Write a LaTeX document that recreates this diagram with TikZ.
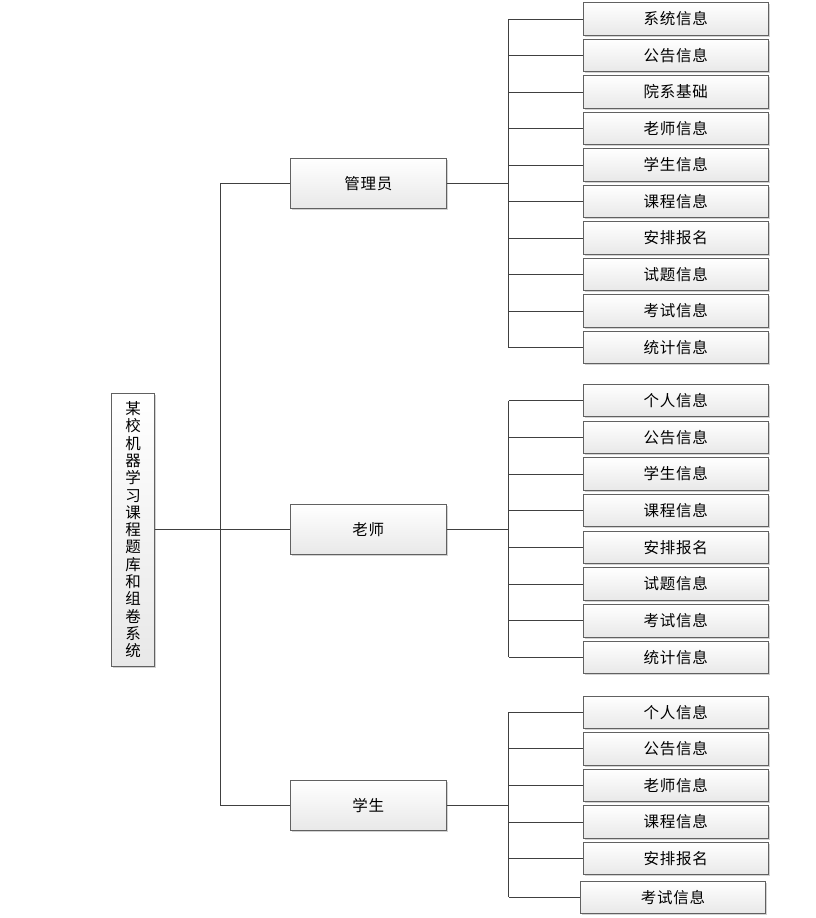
\documentclass[tikz,border=0pt]{standalone}
\usepackage{fontspec}
\setmainfont[LetterSpace=5]{Noto Sans CJK SC}
\usetikzlibrary{shadows}

\begin{document}
\begin{tikzpicture}[
    x=1pt, y=-1pt,
    box/.style={rectangle, draw=black!62, line width=0.8pt, inner sep=0pt, align=center,
        top color=white, bottom color=black!9,
        drop shadow={shadow xshift=1.6pt, shadow yshift=-1.6pt, fill=black!25, opacity=0.7},
        font=\fontsize{15.5}{18}\selectfont},
    rootbox/.style={box, minimum width=43pt, minimum height=273pt, font=\fontsize{15.5}{17.3}\selectfont},
    role/.style={box, minimum width=156pt, minimum height=50pt},
    leaf/.style={box, minimum width=184.5pt, minimum height=32.5pt},
    link/.style={draw=black!75, line width=0.8pt}
]
    % Canvas
    \useasboundingbox (0,0) rectangle (816,918);

    % Bus positions
    \coordinate (trunk) at (220.3,0);
    \coordinate (bus) at (508.8,0);

    % Root
    \node[rootbox] (root) at (133,529.7)
        {某\\校\\机\\器\\学\\习\\课\\程\\题\\库\\和\\组\\卷\\系\\统};

    % Roles
    \node[role] (adm) at (368.3,183.3) {管理员};
    \node[role] (tea) at (368.3,529.7) {老师};
    \node[role] (stu) at (368.3,805.5) {学生};

    % Administrator functions
    \foreach \name/\y/\txt in {a1/19/系统信息, a2/55.5/公告信息, a3/92/院系基础,
        a4/128.5/老师信息, a5/165/学生信息, a6/201.5/课程信息, a7/238/安排报名,
        a8/274.5/试题信息, a9/311/考试信息, a10/347.5/统计信息}
        \node[leaf] (\name) at (675.7,\y) {\txt};

    % Teacher functions
    \foreach \name/\y/\txt in {t1/400.5/个人信息, t2/437.2/公告信息, t3/473.9/学生信息,
        t4/510.6/课程信息, t5/547.3/安排报名, t6/584/试题信息, t7/620.7/考试信息,
        t8/657.4/统计信息}
        \node[leaf] (\name) at (675.7,\y) {\txt};

    % Student functions
    \foreach \name/\y/\txt in {s1/712.3/个人信息, s2/748.8/公告信息, s3/785.5/老师信息,
        s4/822/课程信息, s5/858.5/安排报名}
        \node[leaf] (\name) at (675.7,\y) {\txt};
    \node[leaf] (s6) at (673,897.3) {考试信息};

    % Root to roles
    \draw[link] (root.east) -- (tea.west);
    \draw[link] (trunk |- adm.west) -- (trunk |- stu.west);
    \draw[link] (trunk |- adm.west) -- (adm.west);
    \draw[link] (trunk |- stu.west) -- (stu.west);

    % Roles to functions
    \draw[link] (adm.east) -- (adm.east -| bus);
    \draw[link] (a1.west -| bus) -- (a10.west -| bus);
    \foreach \name in {a1,a2,a3,a4,a5,a6,a7,a8,a9,a10}
        \draw[link] (\name.west -| bus) -- (\name.west);

    \draw[link] (tea.east) -- (tea.east -| bus);
    \draw[link] (t1.west -| bus) -- (t8.west -| bus);
    \foreach \name in {t1,t2,t3,t4,t5,t6,t7,t8}
        \draw[link] (\name.west -| bus) -- (\name.west);

    \draw[link] (stu.east) -- (stu.east -| bus);
    \draw[link] (s1.west -| bus) -- (s6.west -| bus);
    \foreach \name in {s1,s2,s3,s4,s5,s6}
        \draw[link] (\name.west -| bus) -- (\name.west);

\end{tikzpicture}
\end{document}
